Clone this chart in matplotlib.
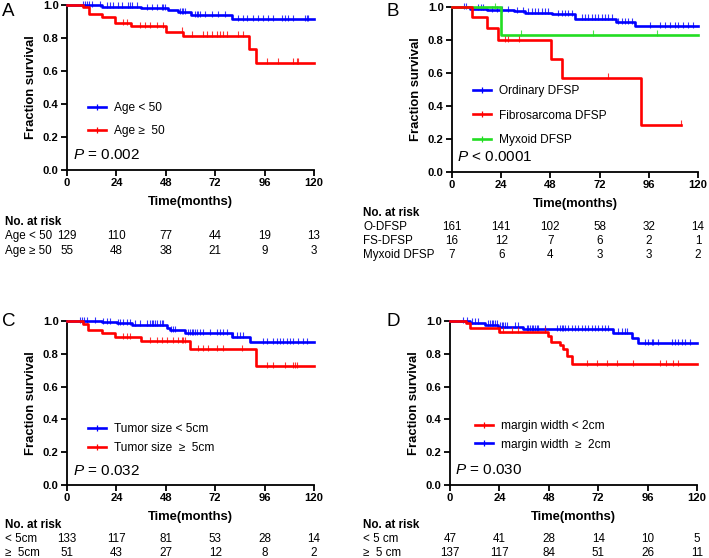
import numpy as np
import matplotlib
matplotlib.use("Agg")
import matplotlib.pyplot as plt
from matplotlib.lines import Line2D
from matplotlib.transforms import blended_transform_factory

plt.rcParams['font.family'] = ['Liberation Sans', 'DejaVu Sans']
plt.rcParams['mathtext.fontset'] = 'custom'
plt.rcParams['mathtext.it'] = 'Liberation Sans:italic'
plt.rcParams['mathtext.rm'] = 'Liberation Sans'

BLUE = '#0000FF'
RED = '#FF0000'
GREEN = '#22DD22'

# ---------------- Panel A: Age ----------------
a_young_t = [0, 17, 36, 49, 54, 60, 80]
a_young_s = [1.0, 0.99, 0.98, 0.97, 0.955, 0.94, 0.913]
a_young_c = [7.6, 8.7, 9.9, 10.9, 12, 16, 19.3, 20.9, 22.5, 24.9, 26.6, 29.8, 30.6, 31.4, 33.9,
             38.7, 41.1, 43.6, 46, 46.8, 47.6, 54.9, 55.7, 56.5, 57.3, 62.2, 63, 63.8, 64.6, 67,
             70.3, 73.5, 76.8, 83.3, 85.7, 87.3, 90.5, 93, 95.4, 97.8, 100.3, 104.3, 105.9, 107.5,
             110, 115.6, 116.5, 117.3]
a_old_t = [0, 8, 10.5, 17, 23.5, 31, 48, 56.5, 88.5, 92]
a_old_s = [1.0, 0.985, 0.945, 0.928, 0.889, 0.873, 0.838, 0.814, 0.733, 0.651]
a_old_c = [27.4, 29, 35.5, 37.9, 40.3, 43.6, 46.8, 55.7, 60.6, 66.2, 67.9, 70.3, 72.7, 74.3, 76,
           77.6, 83.3, 85.7, 97, 102.7, 110, 111.6, 112.4]
a_labels = ['Age < 50', 'Age \u2265  50']
a_risk_labels = ['Age < 50', 'Age \u2265 50']
a_risk = [[129, 110, 77, 44, 19, 13], [55, 48, 38, 21, 9, 3]]
a_p = '= 0.002'

# ---------------- Panel B: subtype ----------------
b_ord_t = [0, 8.8, 17, 30, 35.6, 48.6, 60, 80, 89.3]
b_ord_s = [1.0, 0.99, 0.982, 0.974, 0.965, 0.955, 0.93, 0.907, 0.885]
b_ord_c = [5.9, 6.7, 12.8, 14.1, 15.3, 19.3, 21.8, 24.2, 27.5, 31.5, 34.8, 37.2, 38.9, 40.5, 42.1,
           43.7, 45.4, 47, 51.9, 53.5, 55.1, 56.7, 58.4, 63.3, 64.9, 66.5, 68.1, 69.8, 71.4, 73,
           74.6, 76.3, 77.9, 81.1, 82.8, 84.4, 86, 87.6, 96.6, 101.5, 103.9, 106.3, 108.8, 110.4,
           112.8, 115.3, 117.7]
b_fs_t = [0, 9.6, 16.9, 22.6, 48.3, 53.8, 92]
b_fs_s = [1.0, 0.9375, 0.875, 0.80, 0.686, 0.571, 0.286]
b_fs_c = [25.9, 27.5, 32.7, 76.3, 111.5]
b_myx_t = [0, 23.7]
b_myx_s = [1.0, 0.833]
b_myx_c = [21, 33.7, 68.9, 99.8]
b_labels = ['Ordinary DFSP', 'Fibrosarcoma DFSP', 'Myxoid DFSP']
b_risk_labels = ['O-DFSP', 'FS-DFSP', 'Myxoid DFSP']
b_risk = [[161, 141, 102, 58, 32, 14], [16, 12, 7, 6, 2, 1], [7, 6, 4, 3, 3, 2]]
b_p = '< 0.0001'

# ---------------- Panel C: tumor size ----------------
c_small_t = [0, 16.8, 24.1, 31.4, 48.4, 50, 57.3, 80, 88.9]
c_small_s = [1.0, 0.994, 0.986, 0.978, 0.958, 0.946, 0.925, 0.904, 0.872]
c_small_c = [6.3, 7.1, 8.3, 9.6, 13.6, 17.7, 19.3, 20.9, 24.9, 25.8, 27.4, 29, 30.6, 33, 35.5, 38.7,
             40.3, 41.1, 42, 42.8, 43.6, 45.2, 46, 46.8, 50.5, 51.7, 52.5, 59, 59.8, 60.6, 61.4,
             62.2, 63, 64.6, 66.2, 69.5, 72.7, 74.3, 76, 77.6, 80.8, 82.4, 84.1, 85.7, 95.4, 97,
             100.3, 101.9, 103.5, 105.1, 106.7, 108.4, 110, 112.4, 114.8, 116.5]
c_large_t = [0, 8, 10.4, 16.8, 23.3, 36, 59.8, 91.8]
c_large_s = [1.0, 0.98, 0.943, 0.925, 0.9, 0.878, 0.827, 0.724]
c_large_c = [27.4, 29, 30.6, 40.3, 43.6, 46, 48.4, 51.7, 54.1, 55.7, 56.5, 57.3, 63.8, 66.2, 68.7,
             72.7, 76, 84.9, 97, 100.3, 105.9, 110, 110.8, 111.6]
c_labels = ['Tumor size < 5cm', 'Tumor size  \u2265  5cm']
c_risk_labels = ['< 5cm', '\u2265  5cm']
c_risk = [[133, 117, 81, 53, 28, 14], [51, 43, 27, 12, 8, 2]]
c_p = '= 0.032'

# ---------------- Panel D: margin width ----------------
d_narrow_t = [0, 7.8, 9.5, 24, 47.5, 49, 53.5, 55, 56.7, 59.5]
d_narrow_s = [1.0, 0.986, 0.955, 0.935, 0.91, 0.874, 0.854, 0.827, 0.787, 0.738]
d_narrow_c = [24.3, 25.9, 30, 33.2, 46.2, 66.4, 71.2, 76.4, 81, 88.8, 102, 105, 108.5, 111]
d_wide_t = [0, 9.7, 17, 23.5, 35.6, 79.4, 88.5, 91.5]
d_wide_s = [1.0, 0.99, 0.978, 0.966, 0.949, 0.929, 0.895, 0.864]
d_wide_c = [6.5, 8.1, 10.5, 12.1, 13.8, 18.6, 19.4, 20.2, 21.1, 21.9, 22.7, 24.3, 25.1, 25.9, 26.7,
            27.5, 31.6, 33.2, 37.3, 38.1, 38.9, 39.7, 40.5, 41.3, 42.1, 42.9, 46.2, 51.8, 53.5,
            54.3, 55.1, 55.9, 57.5, 59.1, 60.7, 62.4, 64, 65.6, 67.2, 68.8, 70.5, 72.1, 73.7, 75.3,
            76.9, 81.8, 83.4, 85, 85.8, 94.8, 96.4, 98, 98.8, 101.2, 107.7, 109.3, 111, 112.6,
            114.2, 116.6]
d_labels = ['margin width < 2cm', 'margin width  \u2265  2cm']
d_risk_labels = ['< 5 cm', '\u2265  5 cm']
d_risk = [[47, 41, 28, 14, 10, 5], [137, 117, 84, 51, 26, 11]]
d_p = '= 0.030'

x_ticks = [0, 24, 48, 72, 96, 120]
y_ticks = [0.0, 0.2, 0.4, 0.6, 0.8, 1.0]

W, H = 709, 558
fig = plt.figure(figsize=(W / 100, H / 100), dpi=100)


def fx(px):
    return px / W


def fy(py):
    return 1 - py / H


def make_ax(left, top, right, bottom):
    ax = fig.add_axes([fx(left), fy(bottom), (right - left) / W, (bottom - top) / H])
    ax.set_xlim(0, 120)
    ax.set_ylim(0, 1.0)
    ax.set_xticks(x_ticks)
    ax.set_yticks(y_ticks)
    ax.set_xticklabels([str(v) for v in x_ticks])
    ax.set_yticklabels(['%.1f' % v for v in y_ticks])
    for s in ['top', 'right']:
        ax.spines[s].set_visible(False)
    for s in ['left', 'bottom']:
        ax.spines[s].set_linewidth(1.3)
    ax.tick_params(direction='out', length=4, width=1.3, labelsize=8.1, pad=2)
    for lab in ax.get_xticklabels() + ax.get_yticklabels():
        lab.set_fontweight('bold')
    ax.set_xlabel('Time(months)', fontsize=9.4, fontweight='bold', labelpad=5.5)
    ax.set_ylabel('Fraction survival', fontsize=9.4, fontweight='bold', labelpad=4)
    return ax


def km(ax, t, s, cens, color, t_end):
    tt = list(t) + [t_end]
    ss = list(s) + [s[-1]]
    ax.step(tt, ss, where='post', color=color, lw=1.9, clip_on=False, zorder=3)
    t_arr = np.array(t)
    s_arr = np.array(s)
    c = np.array(cens)
    idx = np.searchsorted(t_arr, c, side='right') - 1
    cy = s_arr[idx]
    ax.plot(c, cy + 0.008, linestyle='none', marker='|', markersize=4.5, mew=0.8,
            color=color, alpha=0.8, clip_on=False, zorder=3)


def legend(ax, labels, colors, x, y, spacing):
    handles = [Line2D([], [], color=c, lw=1.9, marker='|', markersize=4, mew=0.9) for c in colors]
    ax.legend(handles, labels, loc='upper left', bbox_to_anchor=(fx(x), fy(y)),
              bbox_transform=fig.transFigure, frameon=False, fontsize=8.6,
              handlelength=1.5, handletextpad=0.7, labelspacing=spacing,
              borderpad=0, borderaxespad=0, numpoints=1)


def risk_table(ax, title_y, label_x, labels, rows, row_ys):
    tr = blended_transform_factory(ax.transData, fig.transFigure)
    fig.text(fx(label_x), fy(title_y), 'No. at risk', fontsize=8.4, fontweight='bold',
             ha='left', va='center')
    for lab, row, ry in zip(labels, rows, row_ys):
        fig.text(fx(label_x), fy(ry), lab, fontsize=8.4, ha='left', va='center')
        for xv, n in zip(x_ticks, row):
            ax.text(xv, fy(ry), str(n), transform=tr, fontsize=8.4, ha='center', va='center')


def p_text(ax, x, y, txt):
    fig.text(fx(x), fy(y), r'$\it{P}$ ' + txt, fontsize=11, ha='left', va='center')


def letter(x, y, ch):
    fig.text(fx(x), fy(y), ch, fontsize=13.5, ha='left', va='center')


# Panel A
axA = make_ax(67, 5, 314, 170)
km(axA, a_young_t, a_young_s, a_young_c, BLUE, 120)
km(axA, a_old_t, a_old_s, a_old_c, RED, 120)
legend(axA, a_labels, [BLUE, RED], 88, 102, 0.95)
p_text(axA, 73, 155, a_p)
risk_table(axA, 222, 5, a_risk_labels, a_risk, [236, 251])
letter(2, 12, 'A')

# Panel B
axB = make_ax(452, 7, 698, 172)
km(axB, b_ord_t, b_ord_s, b_ord_c, BLUE, 120)
km(axB, b_myx_t, b_myx_s, b_myx_c, GREEN, 120)
km(axB, b_fs_t, b_fs_s, b_fs_c, RED, 111.5)
legend(axB, b_labels, [BLUE, RED, GREEN], 473, 85, 1.05)
p_text(axB, 457, 157, b_p)
risk_table(axB, 213, 363, b_risk_labels, b_risk, [227, 241, 255])
letter(387, 11, 'B')

# Panel C
axC = make_ax(67, 321, 314, 485)
km(axC, c_small_t, c_small_s, c_small_c, BLUE, 120)
km(axC, c_large_t, c_large_s, c_large_c, RED, 120)
legend(axC, c_labels, [BLUE, RED], 88, 423, 0.6)
p_text(axC, 73, 471, c_p)
risk_table(axC, 525, 5, c_risk_labels, c_risk, [539, 553])
letter(2, 322, 'C')

# Panel D
axD = make_ax(450, 321, 697, 485)
km(axD, d_wide_t, d_wide_s, d_wide_c, BLUE, 120)
km(axD, d_narrow_t, d_narrow_s, d_narrow_c, RED, 120)
legend(axD, d_labels, [RED, BLUE], 475, 420, 0.55)
p_text(axD, 455, 470, d_p)
risk_table(axD, 525, 363, d_risk_labels, d_risk, [539, 553])
letter(387, 322, 'D')

fig.savefig('out.png', dpi=100)
